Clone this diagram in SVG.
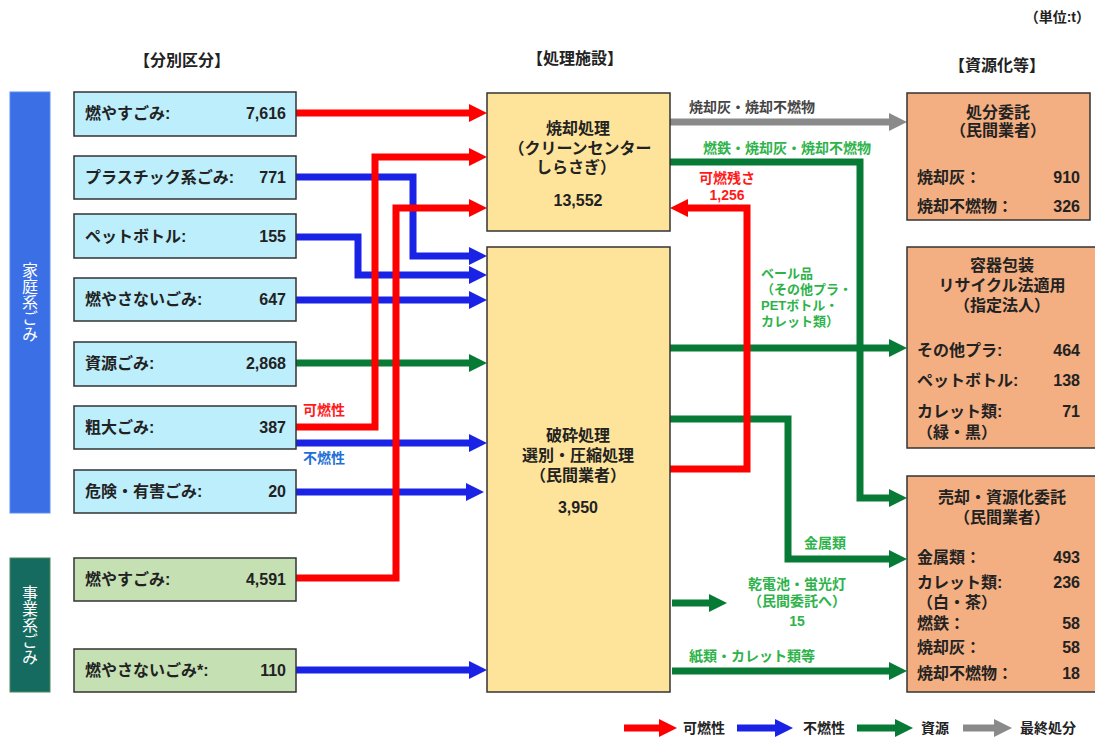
<svg xmlns="http://www.w3.org/2000/svg" width="1095" height="740" viewBox="0 0 1095 740">
<defs>
<style>
text{font-family:"Liberation Sans","Noto Sans CJK JP","Noto Sans CJK SC",sans-serif;fill:#222;font-weight:bold}
.vt{font-family:"Noto Sans CJK JP",sans-serif}
.bx{stroke:#333;stroke-width:1.5}
.home{fill:#bdeefc}
.biz{fill:#c5e0b3}
.fac{fill:#fee49a}
.res{fill:#f3ae81}
.t15{font-size:16px}
.t16{font-size:16px}
.t14{font-size:14px}
.h{font-size:16px}
.mid{text-anchor:middle}
.end{text-anchor:end}
.vt{writing-mode:vertical-rl;font-size:16px;fill:#fff;text-anchor:middle;font-weight:normal}
.c{fill:none;stroke-width:7;stroke-linejoin:miter}
.red{stroke:#ff0000}
.blue{stroke:#1a22e6}
.green{stroke:#077a36}
.gray{stroke:#8a8a8a}
.lg{fill:#2db34a;font-size:14px}
.lg13{fill:#2db34a;font-size:13px}
.lr{fill:#ff1a1a;font-size:14px}
.lb{fill:#1f6fd6;font-size:14px}
.ld{fill:#444;font-size:14px}
</style>
<marker id="mr" viewBox="0 0 18 18" markerWidth="18" markerHeight="18" markerUnits="userSpaceOnUse" refX="1" refY="9" orient="auto"><path d="M0,0 L18,9 L0,18 z" fill="#ff0000"/></marker>
<marker id="mb" viewBox="0 0 18 18" markerWidth="18" markerHeight="18" markerUnits="userSpaceOnUse" refX="1" refY="9" orient="auto"><path d="M0,0 L18,9 L0,18 z" fill="#1a22e6"/></marker>
<marker id="mg" viewBox="0 0 18 18" markerWidth="18" markerHeight="18" markerUnits="userSpaceOnUse" refX="1" refY="9" orient="auto"><path d="M0,0 L18,9 L0,18 z" fill="#077a36"/></marker>
<marker id="my" viewBox="0 0 18 18" markerWidth="18" markerHeight="18" markerUnits="userSpaceOnUse" refX="1" refY="9" orient="auto"><path d="M0,0 L18,9 L0,18 z" fill="#8a8a8a"/></marker>
</defs>
<rect width="1095" height="740" fill="#fff"/>

<!-- headers -->
<g id="headers">
<text class="h mid" x="182" y="66">【分別区分】</text>
<text class="h mid" x="575" y="64">【処理施設】</text>
<text class="h mid" x="997" y="71">【資源化等】</text>
<text class="t14 end" x="1090" y="22">（単位:t）</text>
</g>

<!-- side bars -->
<g id="bar-home">
<rect x="10" y="92" width="40" height="421" fill="#3a6fe6" stroke="#5a8ff0" stroke-width="1"/>
<text class="vt" x="30" y="302">家庭系ごみ</text>
</g>
<g id="bar-biz">
<rect x="10" y="558" width="40" height="134" fill="#166b60" stroke="#4a8a5a" stroke-width="1"/>
<text class="vt" x="30" y="625">事業系ごみ</text>
</g>

<!-- connectors -->
<g id="connectors">
<path class="c gray" d="M670,122 H890" marker-end="url(#my)"/>
<path class="c green" d="M296,363 H470" marker-end="url(#mg)"/>
<path class="c green" d="M670,162 H860 V498 H890" marker-end="url(#mg)"/>
<path class="c green" d="M670,348 H890" marker-end="url(#mg)"/>
<path class="c green" d="M670,419 H788 V559 H890" marker-end="url(#mg)"/>
<path class="c green" d="M672,603 H710" marker-end="url(#mg)"/>
<path class="c green" d="M672,671 H890" marker-end="url(#mg)"/>
<path class="c blue" d="M296,177 H413 V256 H470" marker-end="url(#mb)"/>
<path class="c blue" d="M296,237 H358 V275 H470" marker-end="url(#mb)"/>
<path class="c blue" d="M296,300 H470" marker-end="url(#mb)"/>
<path class="c blue" d="M296,443 H470" marker-end="url(#mb)"/>
<path class="c blue" d="M296,492 H467" marker-end="url(#mb)"/>
<path class="c blue" d="M296,670 H470" marker-end="url(#mb)"/>
<path class="c red" d="M296,113 H470" marker-end="url(#mr)"/>
<path class="c red" d="M296,427 H375 V157 H470" marker-end="url(#mr)"/>
<path class="c red" d="M296,578 H396 V208 H470" marker-end="url(#mr)"/>
<path class="c red" d="M670,469 H747 V208 H687" marker-end="url(#mr)"/>
</g>

<!-- connector labels -->
<g id="connector-labels">
<text class="lr" x="303" y="415">可燃性</text>
<text class="lb" x="303" y="463">不燃性</text>
<text class="ld" x="689" y="112">焼却灰・焼却不燃物</text>
<text class="lg" x="703" y="153">燃鉄・焼却灰・焼却不燃物</text>
<text class="lr mid" x="727" y="183"><tspan x="727">可燃残さ</tspan><tspan x="727" dy="17">1,256</tspan></text>
<text class="lg13" x="761" y="278"><tspan x="761">ベール品</tspan><tspan x="761" dy="16">（その他プラ・</tspan><tspan x="761" dy="16">PETボトル・</tspan><tspan x="761" dy="16">カレット類）</tspan></text>
<text class="lg mid" x="825" y="548">金属類</text>
<text class="lg mid" x="797" y="589"><tspan x="797">乾電池・蛍光灯</tspan><tspan x="797" dy="17">（民間委託へ）</tspan><tspan x="797" dy="20">15</tspan></text>
<text class="lg" x="689" y="661">紙類・カレット類等</text>
</g>

<!-- left nodes -->
<g id="n-moyasu"><rect class="bx home" x="74" y="92" width="222" height="44"/><text class="t15" x="85" y="119">燃やすごみ:</text><text class="t15 end" x="286" y="119">7,616</text></g>
<g id="n-plastic"><rect class="bx home" x="74" y="156" width="222" height="43"/><text class="t15" x="85" y="183">プラスチック系ごみ:</text><text class="t15 end" x="286" y="183">771</text></g>
<g id="n-pet"><rect class="bx home" x="74" y="214" width="222" height="44"/><text class="t15" x="85" y="242">ペットボトル:</text><text class="t15 end" x="286" y="242">155</text></g>
<g id="n-moyasanai"><rect class="bx home" x="74" y="278" width="222" height="43"/><text class="t15" x="85" y="305">燃やさないごみ:</text><text class="t15 end" x="286" y="305">647</text></g>
<g id="n-shigen"><rect class="bx home" x="74" y="342" width="222" height="44"/><text class="t15" x="85" y="369">資源ごみ:</text><text class="t15 end" x="286" y="369">2,868</text></g>
<g id="n-sodai"><rect class="bx home" x="74" y="406" width="222" height="43"/><text class="t15" x="85" y="433">粗大ごみ:</text><text class="t15 end" x="286" y="433">387</text></g>
<g id="n-kiken"><rect class="bx home" x="74" y="470" width="222" height="43"/><text class="t15" x="85" y="497">危険・有害ごみ:</text><text class="t15 end" x="286" y="497">20</text></g>
<g id="n-biz-moyasu"><rect class="bx biz" x="74" y="558" width="222" height="43"/><text class="t15" x="85" y="585">燃やすごみ:</text><text class="t15 end" x="286" y="585">4,591</text></g>
<g id="n-biz-moyasanai"><rect class="bx biz" x="74" y="649" width="222" height="43"/><text class="t15" x="85" y="676">燃やさないごみ*:</text><text class="t15 end" x="286" y="676">110</text></g>

<!-- facility nodes -->
<g id="n-incin"><rect class="bx fac" x="487" y="93" width="183" height="138"/>
<text class="t16 mid" x="578" y="134"><tspan x="578">焼却処理</tspan><tspan x="580" dy="20">（クリーンセンター</tspan><tspan x="576" dy="19">しらさぎ）</tspan><tspan x="578" dy="33">13,552</tspan></text></g>
<g id="n-shred"><rect class="bx fac" x="487" y="247" width="183" height="445"/>
<text class="t16 mid" x="578" y="441"><tspan x="578">破砕処理</tspan><tspan x="578" dy="20">選別・圧縮処理</tspan><tspan x="578" dy="20">（民間業者）</tspan><tspan x="578" dy="32">3,950</tspan></text></g>

<!-- result nodes -->
<g id="n-shobun"><rect class="bx res" x="907" y="93" width="183" height="127"/>
<text class="t16 mid" x="998" y="118"><tspan x="998">処分委託</tspan><tspan x="998" dy="18">（民間業者）</tspan></text>
<text class="t16" x="917" y="183"><tspan x="917">焼却灰：</tspan><tspan x="917" dy="29">焼却不燃物：</tspan></text>
<text class="t16 end" x="1080" y="183"><tspan x="1080">910</tspan><tspan x="1080" dy="29">326</tspan></text></g>
<g id="n-youki"><rect class="bx res" x="907" y="247" width="190" height="201"/>
<text class="t16 mid" x="1002" y="271"><tspan x="1002">容器包装</tspan><tspan x="1002" dy="20">リサイクル法適用</tspan><tspan x="1002" dy="20">（指定法人）</tspan></text>
<text class="t16" x="917" y="356"><tspan x="917">その他プラ:</tspan><tspan x="917" dy="30">ペットボトル:</tspan><tspan x="917" dy="31">カレット類:</tspan><tspan x="917" dy="21">（緑・黒）</tspan></text>
<text class="t16 end" x="1080" y="356"><tspan x="1080">464</tspan><tspan x="1080" dy="30">138</tspan><tspan x="1080" dy="31">71</tspan></text></g>
<g id="n-baikyaku"><rect class="bx res" x="907" y="476" width="190" height="216"/>
<text class="t16 mid" x="1002" y="503"><tspan x="1002">売却・資源化委託</tspan><tspan x="1002" dy="20">（民間業者）</tspan></text>
<text class="t16" x="917" y="563"><tspan x="917">金属類：</tspan><tspan x="917" dy="25">カレット類:</tspan><tspan x="917" dy="20">（白・茶）</tspan><tspan x="917" dy="21">燃鉄：</tspan><tspan x="917" dy="24">焼却灰：</tspan><tspan x="917" dy="26">焼却不燃物：</tspan></text>
<text class="t16 end" x="1080" y="563"><tspan x="1080">493</tspan><tspan x="1080" dy="25">236</tspan><tspan x="1080" dy="41">58</tspan><tspan x="1080" dy="24">58</tspan><tspan x="1080" dy="26">18</tspan></text></g>

<!-- legend -->
<g id="legend">
<path class="c red" d="M624,728 H660" marker-end="url(#mr)"/>
<text class="t14" x="683" y="733">可燃性</text>
<path class="c blue" d="M737,728 H776" marker-end="url(#mb)"/>
<text class="t14" x="803" y="733">不燃性</text>
<path class="c green" d="M857,728 H896" marker-end="url(#mg)"/>
<text class="t14" x="921" y="733">資源</text>
<path class="c gray" d="M963,728 H995" marker-end="url(#my)"/>
<text class="t14" x="1020" y="733">最終処分</text>
</g>
</svg>
